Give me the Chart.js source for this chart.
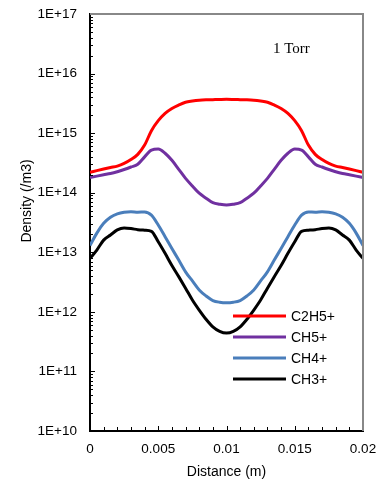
<!DOCTYPE html>
<html>
<head>
<meta charset="utf-8">
<script src="https://cdn.jsdelivr.net/npm/chart.js@4.4.1/dist/chart.umd.min.js"></script>
<style>
  body { margin: 0; background: #fff; }
</style>
</head>
<body>
<canvas id="chart" width="382" height="481"></canvas>
<script>
// distance across the gap (m)
const distance = [
    0, 0.0005, 0.001, 0.0015, 0.002, 0.0025, 0.003, 0.0035, 0.004, 0.0045,
    0.005, 0.0055, 0.006, 0.0065, 0.007, 0.0075, 0.008, 0.0085, 0.009, 0.0095,
    0.01, 0.0105, 0.011, 0.0115, 0.012, 0.0125, 0.013, 0.0135, 0.014, 0.0145,
    0.015, 0.0155, 0.016, 0.0165, 0.017, 0.0175, 0.018, 0.0185, 0.019, 0.0195, 0.02
];

const c2h5 = [
    2.2e14, 2.35e14, 2.5e14, 2.65e14, 2.8e14, 3.1e14, 3.6e14, 4.4e14, 6.3e14, 1.1e15,
    1.62e15, 2.15e15, 2.6e15, 2.97e15, 3.3e15, 3.45e15, 3.56e15, 3.62e15, 3.65e15, 3.68e15,
    3.7e15, 3.68e15, 3.65e15, 3.62e15, 3.56e15, 3.45e15, 3.3e15, 2.97e15, 2.6e15, 2.15e15,
    1.62e15, 1.1e15, 6.3e14, 4.4e14, 3.6e14, 3.1e14, 2.8e14, 2.65e14, 2.5e14, 2.35e14, 2.2e14
];

const ch5 = [
    1.8e14, 1.9e14, 2.0e14, 2.1e14, 2.25e14, 2.45e14, 2.7e14, 3.0e14, 4.0e14, 5.2e14,
    5.4e14, 4.6e14, 3.5e14, 2.47e14, 1.74e14, 1.3e14, 9.8e13, 8.1e13, 6.8e13, 6.4e13,
    6.2e13, 6.4e13, 6.8e13, 8.1e13, 9.8e13, 1.3e14, 1.74e14, 2.47e14, 3.5e14, 4.6e14,
    5.4e14, 5.2e14, 4.0e14, 3.0e14, 2.7e14, 2.45e14, 2.25e14, 2.1e14, 2.0e14, 1.9e14, 1.8e14
];

const ch4 = [
    1.3e13, 2.1e13, 3.06e13, 3.86e13, 4.4e13, 4.7e13, 4.8e13, 4.7e13, 4.75e13, 4.2e13,
    2.87e13, 1.83e13, 1.16e13, 7.4e12, 4.7e12, 3.3e12, 2.33e12, 1.85e12, 1.55e12, 1.45e12,
    1.42e12, 1.45e12, 1.55e12, 1.85e12, 2.33e12, 3.3e12, 4.7e12, 7.4e12, 1.16e13, 1.83e13,
    2.87e13, 4.2e13, 4.75e13, 4.7e13, 4.8e13, 4.7e13, 4.4e13, 3.86e13, 3.06e13, 2.1e13, 1.3e13
];

const ch3 = [
    7.9e12, 1.09e13, 1.6e13, 1.95e13, 2.37e13, 2.55e13, 2.5e13, 2.4e13, 2.35e13, 2.25e13,
    1.5e13, 9.6e12, 6.0e12, 3.9e12, 2.5e12, 1.58e12, 1.07e12, 7.5e11, 5.6e11, 4.7e11,
    4.4e11, 4.7e11, 5.6e11, 7.5e11, 1.07e12, 1.58e12, 2.5e12, 3.9e12, 6.0e12, 9.6e12,
    1.5e13, 2.25e13, 2.35e13, 2.4e13, 2.5e13, 2.55e13, 2.37e13, 1.95e13, 1.6e13, 1.09e13, 7.9e12
];

const seriesNames = ["C2H5+", "CH5+", "CH4+", "CH3+"];
const seriesColors = ["#ff0000", "#7030a0", "#4a7ebb", "#000000"];

const yTicks = [1e10, 1e11, 1e12, 1e13, 1e14, 1e15, 1e16, 1e17];
const yTickLabels = ["1E+10", "1E+11", "1E+12", "1E+13", "1E+14", "1E+15", "1E+16", "1E+17"];
const xTicks = [0, 0.005, 0.01, 0.015, 0.02];
const xTickLabels = ["0", "0.005", "0.01", "0.015", "0.02"];

const font = "'Liberation Sans', Arial, sans-serif";

function points(values) {
    return distance.map((d, i) => ({x: d, y: values[i]}));
}

// ticks inside the frame, grey top/right border, legend, note, y title
const decorations = {
    id: 'decorations',
    afterDraw(chart) {
        const ctx = chart.ctx;
        const area = chart.chartArea;
        const xs = chart.scales.x;
        const ys = chart.scales.y;
        ctx.save();

        ctx.strokeStyle = '#888';
        ctx.lineWidth = 2;
        ctx.beginPath();
        ctx.moveTo(area.left, area.top);
        ctx.lineTo(area.right, area.top);
        ctx.lineTo(area.right, area.bottom);
        ctx.stroke();

        ctx.strokeStyle = '#000';
        ctx.lineWidth = 1;
        ctx.beginPath();
        for (let e = 10; e < 17; e++) {
            for (let m = 1; m < 10; m++) {
                const y = Math.round(ys.getPixelForValue(m * Math.pow(10, e))) + 0.5;
                const len = m === 1 ? 5 : 3;
                ctx.moveTo(area.left, y);
                ctx.lineTo(area.left + len, y);
            }
        }
        for (let k = 1; k < 20; k++) {
            const x = Math.round(xs.getPixelForValue(k * 0.001)) + 0.5;
            const len = k % 5 === 0 ? 5 : 4;
            ctx.moveTo(x, area.bottom);
            ctx.lineTo(x, area.bottom - len);
        }
        ctx.stroke();

        // legend
        ctx.font = '14px ' + font;
        ctx.textBaseline = 'middle';
        ctx.textAlign = 'left';
        chart.data.datasets.forEach((ds, i) => {
            const y = 316 + i * 21;
            ctx.strokeStyle = ds.borderColor;
            ctx.lineWidth = 3;
            ctx.beginPath();
            ctx.moveTo(233, y);
            ctx.lineTo(286, y);
            ctx.stroke();
            ctx.fillStyle = '#000';
            ctx.fillText(ds.label, 291, y + 1);
        });

        ctx.font = "15px 'Liberation Serif', 'Times New Roman', serif";
        ctx.fillText("1 Torr", 273, 49);

        ctx.font = '14px ' + font;
        ctx.translate(27, 201);
        ctx.rotate(-Math.PI / 2);
        ctx.textAlign = 'center';
        ctx.fillText("Density (/m3)", 0, 0);
        ctx.restore();
    }
};

new Chart(document.getElementById("chart"), {
    type: 'line',
    data: {
        datasets: seriesNames.map((name, i) => ({
            label: name,
            data: points([c2h5, ch5, ch4, ch3][i]),
            borderColor: seriesColors[i],
            borderWidth: 3,
            pointRadius: 0,
            cubicInterpolationMode: 'monotone',
            fill: false
        }))
    },
    options: {
        responsive: false,
        animation: false,
        layout: {padding: {top: 14, right: 19, left: 0, bottom: 0}},
        plugins: {
            legend: {display: false},
            tooltip: {enabled: false}
        },
        scales: {
            x: {
                type: 'linear',
                min: 0,
                max: 0.02,
                afterBuildTicks: scale => { scale.ticks = xTicks.map(v => ({value: v})); },
                afterFit: scale => {
                    scale.height = 50;
                    scale.paddingLeft = 0;
                    scale.paddingRight = 0;
                },
                grid: {display: false, drawTicks: false},
                border: {color: '#000', width: 2},
                ticks: {
                    callback: (v, i) => xTickLabels[i],
                    padding: 10,
                    maxRotation: 0,
                    color: '#000',
                    font: {family: font, size: 13.5}
                },
                title: {
                    display: true,
                    text: 'Distance (m)',
                    color: '#000',
                    font: {family: font, size: 14},
                    padding: {top: 0, bottom: 0}
                }
            },
            y: {
                type: 'logarithmic',
                min: 1e10,
                max: 1e17,
                afterBuildTicks: scale => { scale.ticks = yTicks.map(v => ({value: v})); },
                afterFit: scale => {
                    scale.width = 90;
                    scale.paddingTop = 0;
                    scale.paddingBottom = 0;
                },
                grid: {display: false, drawTicks: false},
                border: {color: '#000', width: 2},
                ticks: {
                    callback: (v, i) => yTickLabels[i],
                    padding: 13,
                    color: '#000',
                    font: {family: font, size: 13.5}
                }
            }
        }
    },
    plugins: [decorations]
});
</script>
</body>
</html>
